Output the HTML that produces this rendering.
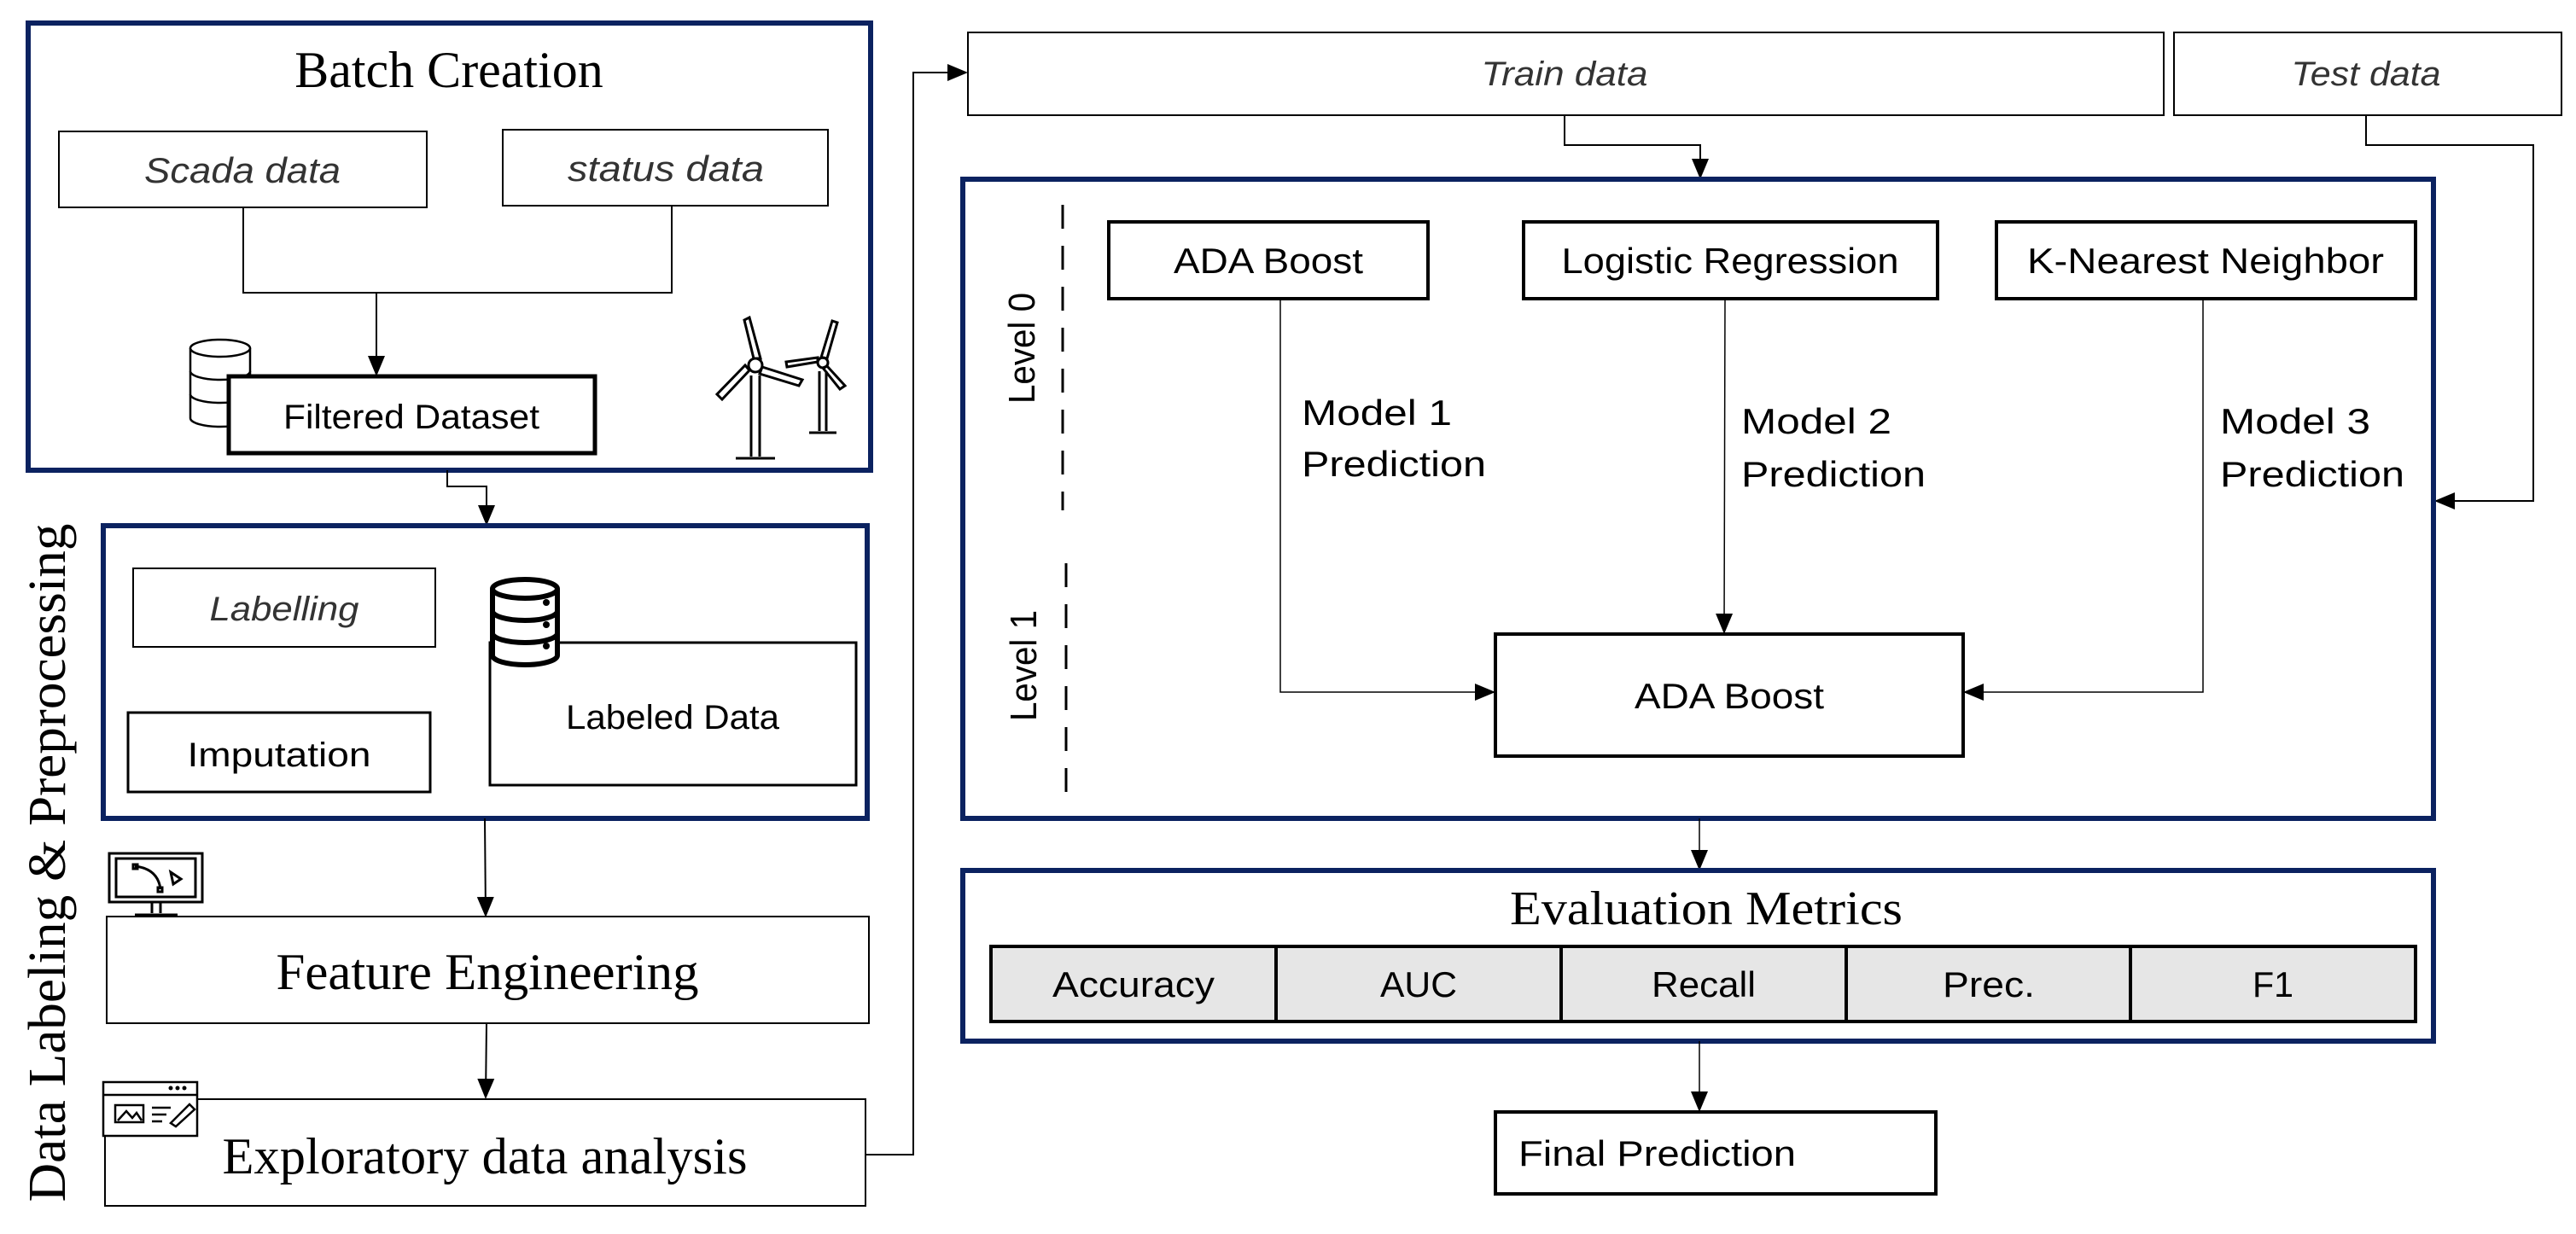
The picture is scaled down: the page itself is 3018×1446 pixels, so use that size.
<!DOCTYPE html>
<html><head><meta charset="utf-8"><style>
html,body{margin:0;padding:0;background:#fff;}
svg{display:block;}
text{font-family:"Liberation Sans",sans-serif;fill:#000;}
.serif{font-family:"Liberation Serif",serif;}
.it{font-style:italic;fill:#333;}
</style></head><body>
<svg width="3018" height="1446" viewBox="0 0 3018 1446" xmlns="http://www.w3.org/2000/svg">
<defs>
<marker id="b" markerWidth="24" markerHeight="24" refX="22" refY="12" orient="auto" markerUnits="userSpaceOnUse" viewBox="0 0 24 24">
<path d="M0,2 L24,12 L0,22 z" fill="#000"/></marker>
</defs>
<g fill="none" stroke="#000">
<rect x="33" y="27" width="987" height="524" stroke="#0b2260" stroke-width="6"/>
<rect x="69" y="154" width="431" height="89" stroke-width="2"/>
<rect x="589" y="152" width="381" height="89" stroke-width="2"/>
<polyline points="285,243 285,343 787,343 787,241" stroke-width="2"/>
<line x1="441" y1="343" x2="441" y2="439" stroke-width="2" marker-end="url(#b)"/>
<g stroke-width="2.5" fill="#fff">
<path d="M223,408 v82 a35,10 0 0 0 70,0 v-82"/>
<ellipse cx="258" cy="408" rx="35" ry="10"/>
<path d="M223,435 a35,10 0 0 0 70,0 M223,462 a35,10 0 0 0 70,0"/>
</g>
<rect x="268" y="441" width="429" height="90" stroke-width="5" fill="#fff"/>
<g stroke-width="3">
<path d="M880,535 V440 M890,535 V440 M862,537 H908"/>
<circle cx="885" cy="428" r="8"/>
<path d="M883,420 L872,375 L878,372 L891,420 Z"/>
<path d="M893,430 L940,445 L936,452 L890,438 Z"/>
<path d="M878,434 L846,468 L840,462 L873,428 Z"/>
<path d="M960,505 V435 M968,505 V435 M948,507 H980"/>
<circle cx="964" cy="425" r="6"/>
<path d="M962,419 L975,376 L981,378 L969,420 Z"/>
<path d="M958,424 L922,430 L921,424 L958,419 Z"/>
<path d="M969,429 L990,452 L984,456 L964,431 Z"/>
</g>
<polyline points="524,551 524,570 570,570 570,614" stroke-width="2" marker-end="url(#b)"/>
<rect x="121" y="616" width="895" height="343" stroke="#0b2260" stroke-width="6"/>
<rect x="156" y="666" width="354" height="92" stroke-width="2"/>
<rect x="150" y="835" width="354" height="93" stroke-width="3"/>
<rect x="574" y="753" width="429" height="167" stroke-width="3"/>
<g stroke-width="6" fill="#fff">
<path d="M577,690 v78 a38,11 0 0 0 76,0 v-78"/>
<ellipse cx="615" cy="690" rx="38" ry="11"/>
<path d="M577,716 a38,11 0 0 0 76,0 M577,742 a38,11 0 0 0 76,0"/>
</g>
<g fill="#000" stroke="none"><circle cx="640" cy="706" r="4"/><circle cx="640" cy="732" r="4"/><circle cx="640" cy="757" r="4"/></g>
<line x1="568" y1="959" x2="569" y2="1073" stroke-width="2" marker-end="url(#b)"/>
<g stroke-width="3">
<rect x="128" y="1000" width="109" height="57"/>
<rect x="136" y="1006" width="93" height="45"/>
<path d="M178,1057 V1070 M188,1057 V1070 M158,1072 H208"/>
<path d="M158,1015 Q185,1018 188,1042" /><rect x="156" y="1013" width="5" height="5"/><rect x="185" y="1040" width="5" height="5"/>
<path d="M200,1022 L212,1030 L203,1036 Z"/>
</g>
<rect x="125" y="1074" width="893" height="125" stroke-width="2"/>
<line x1="570" y1="1199" x2="569" y2="1286" stroke-width="2" marker-end="url(#b)"/>
<rect x="123" y="1288" width="891" height="125" stroke-width="2"/>
<g stroke-width="2.5" fill="#fff">
<rect x="121" y="1268" width="110" height="63"/>
<line x1="121" y1="1283" x2="231" y2="1283"/>
<rect x="135" y="1295" width="33" height="20"/>
<path d="M138,1313 L148,1302 L155,1310 L160,1304 L166,1313"/>
<path d="M178,1298 H200 M178,1306 H195 M178,1314 H190 M200,1316 L222,1294 L228,1300 L206,1320 Z"/>
</g>
<g fill="#000" stroke="none"><circle cx="200" cy="1275" r="2.5"/><circle cx="208" cy="1275" r="2.5"/><circle cx="216" cy="1275" r="2.5"/></g>
<polyline points="1014,1353 1070,1353 1070,85 1132,85" stroke-width="2" marker-end="url(#b)"/>
<rect x="1134" y="38" width="1401" height="97" stroke-width="2"/>
<rect x="2547" y="38" width="454" height="97" stroke-width="2"/>
<polyline points="1833,135 1833,170 1992,170 1992,208" stroke-width="2" marker-end="url(#b)"/>
<polyline points="2772,135 2772,170 2968,170 2968,587 2854,587" stroke-width="2" marker-end="url(#b)"/>
<rect x="1128" y="210" width="1723" height="749" stroke="#0b2260" stroke-width="6"/>
<line x1="1245" y1="240" x2="1245" y2="598" stroke-width="3" stroke-dasharray="28,20"/>
<line x1="1249" y1="660" x2="1249" y2="935" stroke-width="3" stroke-dasharray="28,20"/>
<rect x="1299" y="260" width="374" height="90" stroke-width="4"/>
<rect x="1785" y="260" width="485" height="90" stroke-width="4"/>
<rect x="2339" y="260" width="491" height="90" stroke-width="4"/>
<polyline points="1500,350 1500,811 1750,811" stroke-width="1.5" marker-end="url(#b)"/>
<line x1="2021" y1="350" x2="2020" y2="741" stroke-width="1.5" marker-end="url(#b)"/>
<polyline points="2581,350 2581,811 2302,811" stroke-width="1.5" marker-end="url(#b)"/>
<rect x="1752" y="743" width="548" height="143" stroke-width="4"/>
<line x1="1991" y1="959" x2="1991" y2="1018" stroke-width="1.5" marker-end="url(#b)"/>
<rect x="1128" y="1020" width="1723" height="200" stroke="#0b2260" stroke-width="6"/>
<g fill="#e6e6e6" stroke-width="4">
<rect x="1161" y="1109" width="334" height="88"/>
<rect x="1495" y="1109" width="334" height="88"/>
<rect x="1829" y="1109" width="334" height="88"/>
<rect x="2163" y="1109" width="333" height="88"/>
<rect x="2496" y="1109" width="334" height="88"/>
</g>
<line x1="1991" y1="1220" x2="1991" y2="1301" stroke-width="1.5" marker-end="url(#b)"/>
<rect x="1752" y="1303" width="516" height="96" stroke-width="4"/>
</g>
<text x="526" y="102" class="serif" font-size="60" text-anchor="middle">Batch Creation</text>
<text x="284" y="214" class="it" font-size="42" text-anchor="middle" textLength="230" lengthAdjust="spacingAndGlyphs">Scada data</text>
<text x="780" y="212" class="it" font-size="42" text-anchor="middle" textLength="230" lengthAdjust="spacingAndGlyphs">status data</text>
<text x="482" y="502" font-size="40" text-anchor="middle" textLength="300" lengthAdjust="spacingAndGlyphs">Filtered Dataset</text>
<text x="333" y="727" class="it" font-size="40" text-anchor="middle" textLength="175" lengthAdjust="spacingAndGlyphs">Labelling</text>
<text x="327" y="898" font-size="40" text-anchor="middle" textLength="215" lengthAdjust="spacingAndGlyphs">Imputation</text>
<text x="788" y="854" font-size="40" text-anchor="middle" textLength="250" lengthAdjust="spacingAndGlyphs">Labeled Data</text>
<text transform="translate(76,1011) rotate(-90)" class="serif" font-size="62" text-anchor="middle" textLength="795" lengthAdjust="spacingAndGlyphs">Data Labeling &amp; Preprocessing</text>
<text x="571" y="1159" class="serif" font-size="60" text-anchor="middle" textLength="495" lengthAdjust="spacingAndGlyphs">Feature Engineering</text>
<text x="568" y="1375" class="serif" font-size="60" text-anchor="middle" textLength="615" lengthAdjust="spacingAndGlyphs">Exploratory data analysis</text>
<text x="1833" y="100" class="it" font-size="40" text-anchor="middle" textLength="195" lengthAdjust="spacingAndGlyphs">Train data</text>
<text x="2772" y="100" class="it" font-size="40" text-anchor="middle" textLength="175" lengthAdjust="spacingAndGlyphs">Test data</text>
<text transform="translate(1212,408) rotate(-90)" font-size="44" text-anchor="middle" textLength="130" lengthAdjust="spacingAndGlyphs">Level 0</text>
<text transform="translate(1214,780) rotate(-90)" font-size="44" text-anchor="middle" textLength="130" lengthAdjust="spacingAndGlyphs">Level 1</text>
<text x="1486" y="320" font-size="42" text-anchor="middle" textLength="222" lengthAdjust="spacingAndGlyphs">ADA Boost</text>
<text x="2027" y="320" font-size="42" text-anchor="middle" textLength="395" lengthAdjust="spacingAndGlyphs">Logistic Regression</text>
<text x="2584" y="320" font-size="42" text-anchor="middle" textLength="418" lengthAdjust="spacingAndGlyphs">K-Nearest Neighbor</text>
<g font-size="42">
<text x="1525" y="498" textLength="176" lengthAdjust="spacingAndGlyphs">Model 1</text>
<text x="1525" y="558" textLength="216" lengthAdjust="spacingAndGlyphs">Prediction</text>
<text x="2040" y="508" textLength="176" lengthAdjust="spacingAndGlyphs">Model 2</text>
<text x="2040" y="570" textLength="216" lengthAdjust="spacingAndGlyphs">Prediction</text>
<text x="2601" y="508" textLength="176" lengthAdjust="spacingAndGlyphs">Model 3</text>
<text x="2601" y="570" textLength="216" lengthAdjust="spacingAndGlyphs">Prediction</text>
</g>
<text x="2026" y="830" font-size="42" text-anchor="middle" textLength="222" lengthAdjust="spacingAndGlyphs">ADA Boost</text>
<text x="1999" y="1083" class="serif" font-size="56" text-anchor="middle" textLength="460" lengthAdjust="spacingAndGlyphs">Evaluation Metrics</text>
<g font-size="42" text-anchor="middle">
<text x="1328" y="1168" textLength="190" lengthAdjust="spacingAndGlyphs">Accuracy</text>
<text x="1662" y="1168" textLength="90" lengthAdjust="spacingAndGlyphs">AUC</text>
<text x="1996" y="1168" textLength="122" lengthAdjust="spacingAndGlyphs">Recall</text>
<text x="2330" y="1168" textLength="108" lengthAdjust="spacingAndGlyphs">Prec.</text>
<text x="2663" y="1168" textLength="48" lengthAdjust="spacingAndGlyphs">F1</text>
</g>
<text x="1779" y="1366" font-size="42" textLength="325" lengthAdjust="spacingAndGlyphs">Final Prediction</text>
</svg>
</body></html>
